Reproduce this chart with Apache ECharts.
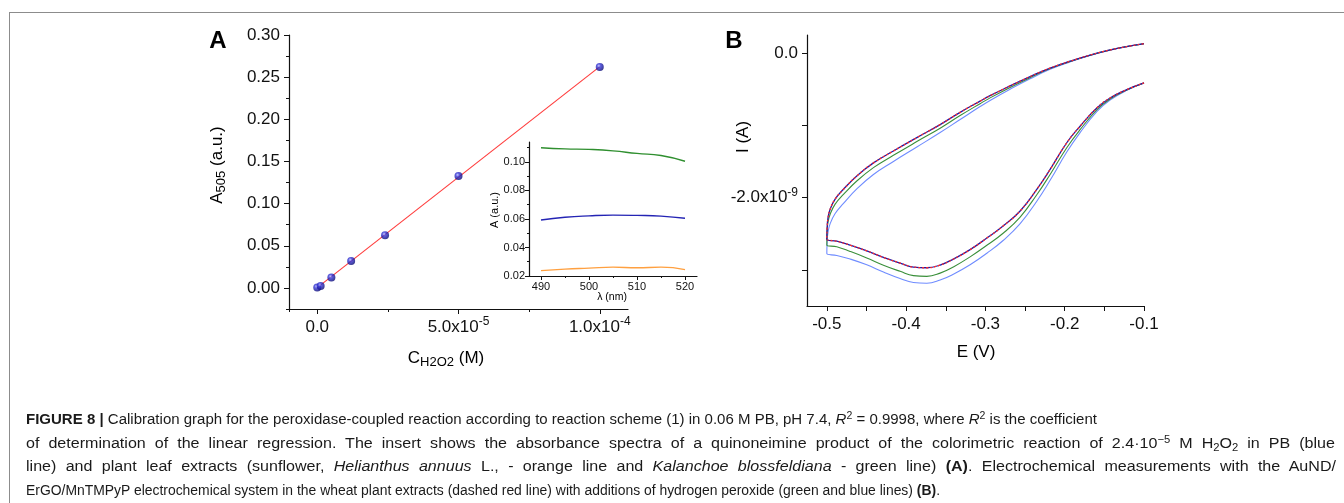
<!DOCTYPE html>
<html>
<head>
<meta charset="utf-8">
<script src="https://cdn.jsdelivr.net/npm/echarts@6/dist/echarts.min.js"></script>
<style>
  html, body { margin: 0; padding: 0; background: #fff; }
  #wrap { position: relative; width: 1344px; height: 503px; overflow: hidden; }
  #frame { position: absolute; left: 9px; top: 12px; right: -2px; bottom: -2px;
           border-top: 1.5px solid #8c8c8c; border-left: 1.5px solid #8c8c8c; }
  #chart { position: absolute; left: 0; top: 0; width: 1344px; height: 503px; }
  .cap { position: absolute; left: 26px; white-space: nowrap; transform-origin: 0 50%;
         font-family: 'Liberation Sans Narrow', 'Arial Narrow', 'Liberation Sans', Arial, sans-serif;
         font-size: 15.5px; line-height: 18px; color: #1a1a1a; }
  .cap sup, .cap sub { font-size: 70%; line-height: 0; position: relative; vertical-align: baseline; }
  .cap sup { top: -0.45em; }
  .cap sub { top: 0.3em; }
</style>
</head>
<body>
<div id="wrap">
  <div id="frame"></div>
  <div id="chart"></div>
  <div class="cap" data-w="1071" data-fit="squeeze" style="top:410px"><b>FIGURE 8 |</b> Calibration graph for the peroxidase-coupled reaction according to reaction scheme (1) in 0.06 M PB, pH 7.4, <i>R</i><sup>2</sup> = 0.9998, where <i>R</i><sup>2</sup> is the coefficient</div>
  <div class="cap" data-w="1309" data-fit="spread" style="top:433.5px">of determination of the linear regression. The insert shows the absorbance spectra of a quinoneimine product of the colorimetric reaction of 2.4·10<sup>−5</sup> M H<sub>2</sub>O<sub>2</sub> in PB (blue</div>
  <div class="cap" data-w="1310" data-fit="spread" style="top:457px">line) and plant leaf extracts (sunflower, <i>Helianthus annuus</i> L., - orange line and <i>Kalanchoe blossfeldiana</i> - green line) <b>(A)</b>. Electrochemical measurements with the AuND/</div>
  <div class="cap" data-w="914" data-fit="squeeze" style="top:480.5px">ErGO/MnTMPyP electrochemical system in the wheat plant extracts (dashed red line) with additions of hydrogen peroxide (green and blue lines) <b>(B)</b>.</div>
</div>
<script>
// ---- panel A: calibration ----
var concH2O2 = [0, 1.2e-6, 5.0e-6, 1.2e-5, 2.4e-5, 5.0e-5, 1.0e-4];
var absA505 = [0.0005, 0.0022, 0.0123, 0.032, 0.0625, 0.1327, 0.262];
var fitConc = [0, 1.0e-4];
var fitAbs = [0.0003, 0.2625];

var concTicks = [0, 5e-5, 1e-4];
var concTickLabels = ['0.0', '5.0x10^-5', '1.0x10^-4'];
var concMinor = [-1e-5, 2.5e-5, 7.5e-5];
var absTicks = [0, 0.05, 0.10, 0.15, 0.20, 0.25, 0.30];
var absTickLabels = ['0.00', '0.05', '0.10', '0.15', '0.20', '0.25', '0.30'];
var absMinor = [-0.025, 0.025, 0.075, 0.125, 0.175, 0.225, 0.275];

// ---- insert: spectra ----
var waveNm = [490, 495, 500, 505, 510, 515, 520];
var specBlue = [0.0593, 0.0612, 0.0622, 0.0627, 0.0625, 0.0620, 0.0605];
var specOrange = [0.0238, 0.0248, 0.0255, 0.0262, 0.0258, 0.0262, 0.0245];
var specGreen = [0.1100, 0.1092, 0.1088, 0.1078, 0.1060, 0.1045, 0.1005];

var waveTicks = [490, 500, 510, 520];
var waveTickLabels = ['490', '500', '510', '520'];
var waveMinor = [495, 505, 515];
var specTicks = [0.02, 0.04, 0.06, 0.08, 0.10];
var specTickLabels = ['0.02', '0.04', '0.06', '0.08', '0.10'];
var specMinor = [0.03, 0.05, 0.07, 0.09, 0.11];

// ---- panel B: CV, E (V) and I (x1e-9 A), reverse scan then forward scan ----
var cvE = [-0.1, -0.1217, -0.1428, -0.1595, -0.1806, -0.1974, -0.2184, -0.2352, -0.2562, -0.2773, -0.2982,
  -0.3193, -0.3404, -0.3571, -0.3739, -0.3908, -0.4076, -0.4286, -0.4496, -0.4706, -0.4874, -0.5,
  -0.4995, -0.4985, -0.4958, -0.4895, -0.479, -0.4622, -0.4412, -0.416, -0.3865, -0.3571, -0.3319,
  -0.3067, -0.2941, -0.2689, -0.2436, -0.2184, -0.1932, -0.168, -0.1428, -0.1175, -0.1];
var cvWheat = [-0.414, -0.506, -0.621, -0.759, -1.012, -1.241, -1.61, -1.886, -2.185, -2.39, -2.56,
  -2.72, -2.851, -2.934, -2.971, -2.961, -2.906, -2.828, -2.737, -2.658, -2.603, -2.575,
  -2.40, -2.28, -2.16, -2.02, -1.885, -1.70, -1.52, -1.355, -1.17, -0.99, -0.82,
  -0.665, -0.59, -0.455, -0.325, -0.207, -0.113, -0.028, 0.043, 0.098, 0.13];
var cvGreen = [-0.414, -0.51, -0.635, -0.785, -1.06, -1.31, -1.68, -1.96, -2.27, -2.49, -2.66,
  -2.82, -2.96, -3.045, -3.09, -3.08, -3.02, -2.935, -2.835, -2.745, -2.68, -2.655,
  -2.45, -2.34, -2.23, -2.09, -1.955, -1.77, -1.585, -1.415, -1.225, -1.04, -0.865,
  -0.70, -0.62, -0.475, -0.34, -0.215, -0.118, -0.03, 0.042, 0.098, 0.13];
var cvBlue = [-0.414, -0.515, -0.65, -0.81, -1.1, -1.37, -1.76, -2.05, -2.36, -2.59, -2.77,
  -2.93, -3.06, -3.14, -3.185, -3.175, -3.12, -3.03, -2.93, -2.85, -2.80, -2.775,
  -2.60, -2.48, -2.36, -2.22, -2.08, -1.88, -1.68, -1.50, -1.30, -1.10, -0.92,
  -0.74, -0.655, -0.50, -0.355, -0.225, -0.122, -0.032, 0.04, 0.097, 0.128];

var eTicks = [-0.5, -0.4, -0.3, -0.2, -0.1];
var eTickLabels = ['-0.5', '-0.4', '-0.3', '-0.2', '-0.1'];
var eMinor = [-0.45, -0.35, -0.25, -0.15];
var iTicks = [0, -1, -2, -3];
var iTickLabels = ['0.0', '', '-2.0x10^-9', ''];

var FONT = 'Liberation Sans, Arial, sans-serif';

function zip(a, b) {
  return a.map(function (v, i) { return [v, b[i]]; });
}

function richText(s) {
  if (!s) return '';
  var p = s.split('^');
  return '{n|' + p[0] + '}' + (p[1] ? '{s|' + p[1] + '}' : '');
}

function richStyles(size) {
  return {
    n: { fontSize: size, fontFamily: FONT, color: '#111', lineHeight: size + 5 },
    s: { fontSize: Math.round(size * 0.68), fontFamily: FONT, color: '#111',
         lineHeight: Math.round(size * 0.7), verticalAlign: 'top' },
    b: { fontSize: Math.round(size * 0.78), fontFamily: FONT, color: '#111',
         lineHeight: Math.round(size * 0.72), verticalAlign: 'bottom' }
  };
}

// axis with labels + major ticks (or minor ticks only when labels is null)
function axis(grid, pos, min, max, ticks, labels, tickLen, size, margin) {
  var a = {
    type: 'value', gridIndex: grid, position: pos, min: min, max: max, offset: 0,
    splitLine: { show: false },
    axisLine: { show: !!labels, onZero: false, lineStyle: { color: '#111', width: 1.2 } },
    axisTick: { show: true, inside: false, length: tickLen, customValues: ticks,
                lineStyle: { color: '#111', width: 1 } },
    axisLabel: { show: false }
  };
  if (labels) {
    a.axisLabel = {
      show: true, customValues: ticks, margin: margin,
      formatter: function (v) {
        for (var i = 0; i < ticks.length; i++) {
          if (Math.abs(ticks[i] - v) < Math.abs(max - min) * 1e-6) return richText(labels[i]);
        }
        return '';
      },
      rich: richStyles(size)
    };
  }
  return a;
}

function label(x, y, text, size, rot, bold) {
  var st = richStyles(size);
  if (bold) st.n.fontWeight = 'bold';
  return {
    type: 'text', x: x, y: y, rotation: rot || 0,
    style: { text: text, align: 'center', verticalAlign: 'middle', rich: st }
  };
}

var chart = echarts.init(document.getElementById('chart'), null, { renderer: 'canvas' });

var option = {
  animation: false,
  backgroundColor: 'transparent',
  grid: [
    { left: 289, top: 35, width: 339, height: 274, outerBoundsMode: 'none' },
    { left: 529, top: 142, width: 168, height: 134, outerBoundsMode: 'none' },
    { left: 807, top: 35, width: 337, height: 271, outerBoundsMode: 'none' }
  ],
  xAxis: [
    axis(0, 'bottom', -1e-5, 1.1e-4, concTicks, concTickLabels, 5, 17, 7),
    axis(0, 'bottom', -1e-5, 1.1e-4, concMinor, null, 3),
    axis(1, 'bottom', 487.5, 522.5, waveTicks, waveTickLabels, 4, 11, 3),
    axis(1, 'bottom', 487.5, 522.5, waveMinor, null, 2),
    axis(2, 'bottom', -0.525, -0.1, eTicks, eTickLabels, 5, 17, 7),
    axis(2, 'bottom', -0.525, -0.1, eMinor, null, 5)
  ],
  yAxis: [
    axis(0, 'left', -0.025, 0.30, absTicks, absTickLabels, 5, 17, 9),
    axis(0, 'left', -0.025, 0.30, absMinor, null, 3),
    axis(1, 'left', 0.02, 0.114, specTicks, specTickLabels, 4, 11, 4),
    axis(1, 'left', 0.02, 0.114, specMinor, null, 2),
    axis(2, 'left', -3.5, 0.25, iTicks, iTickLabels, 5, 17, 9),
    axis(2, 'left', -3.5, 0.25, [], null, 5)
  ],
  series: [
    {
      type: 'line', xAxisIndex: 0, yAxisIndex: 0, data: zip(fitConc, fitAbs),
      symbol: 'none', lineStyle: { color: '#ff3a3a', width: 1.1 }, z: 2
    },
    {
      type: 'scatter', xAxisIndex: 0, yAxisIndex: 0, data: zip(concH2O2, absA505),
      symbolSize: 8, z: 3,
      itemStyle: {
        color: { type: 'radial', x: 0.38, y: 0.35, r: 0.65,
          colorStops: [{ offset: 0, color: '#b8c0ff' }, { offset: 0.35, color: '#3535d8' }, { offset: 1, color: '#0a0a78' }] }
      }
    },
    {
      type: 'line', xAxisIndex: 2, yAxisIndex: 2, data: zip(waveNm, specGreen), smooth: true,
      symbol: 'none', lineStyle: { color: '#2f8f2f', width: 1.4 }
    },
    {
      type: 'line', xAxisIndex: 2, yAxisIndex: 2, data: zip(waveNm, specBlue), smooth: true,
      symbol: 'none', lineStyle: { color: '#2424b4', width: 1.4 }
    },
    {
      type: 'line', xAxisIndex: 2, yAxisIndex: 2, data: zip(waveNm, specOrange), smooth: true,
      symbol: 'none', lineStyle: { color: '#ffa040', width: 1.4 }
    },
    {
      type: 'line', xAxisIndex: 4, yAxisIndex: 4, data: zip(cvE, cvBlue), smooth: 0.45,
      symbol: 'none', lineStyle: { color: '#6f8cff', width: 1.1 }
    },
    {
      type: 'line', xAxisIndex: 4, yAxisIndex: 4, data: zip(cvE, cvGreen), smooth: 0.45,
      symbol: 'none', lineStyle: { color: '#3a8f3a', width: 1.1 }
    },
    {
      type: 'line', xAxisIndex: 4, yAxisIndex: 4, data: zip(cvE, cvWheat), smooth: 0.45,
      symbol: 'none', lineStyle: { color: '#1c1ca8', width: 1.3 }
    },
    {
      type: 'line', xAxisIndex: 4, yAxisIndex: 4, data: zip(cvE, cvWheat), smooth: 0.45,
      symbol: 'none', lineStyle: { color: '#ff2a2a', width: 1.3, type: [2, 2] }
    }
  ],
  graphic: [
    label(218, 41, '{n|A}', 24, 0, true),
    label(734, 41, '{n|B}', 24, 0, true),
    label(217, 165, '{n|A}{b|505}{n| (a.u.)}', 17, Math.PI / 2),
    label(446, 358, '{n|C}{b|H2O2}{n| (M)}', 17, 0),
    label(495, 210, '{n|A (a.u.)}', 11, Math.PI / 2),
    label(612, 297, '{n|λ (nm)}', 10.5, 0),
    label(743, 137, '{n|I (A)}', 17, Math.PI / 2),
    label(976, 352, '{n|E (V)}', 17, 0)
  ]
};

chart.setOption(option);

// caption: lines 1 and 4 are squeezed to their width; lines 2 and 3 are widened a little and the rest goes into word gaps
var caps = Array.prototype.slice.call(document.querySelectorAll('.cap'));
var baseSqueeze = parseFloat(caps[0].getAttribute('data-w')) / caps[0].getBoundingClientRect().width;
caps.forEach(function (el) {
  var w = el.getBoundingClientRect().width;
  var target = parseFloat(el.getAttribute('data-w'));
  if (el.getAttribute('data-fit') === 'squeeze') {
    el.style.transform = 'scaleX(' + (target / w) + ')';
  } else {
    var k = Math.min(target / w, baseSqueeze * 1.07);
    var spaces = (el.textContent.match(/ /g) || []).length;
    el.style.wordSpacing = ((target / k - w) / spaces) + 'px';
    el.style.transform = 'scaleX(' + k + ')';
  }
});
</script>
</body>
</html>
